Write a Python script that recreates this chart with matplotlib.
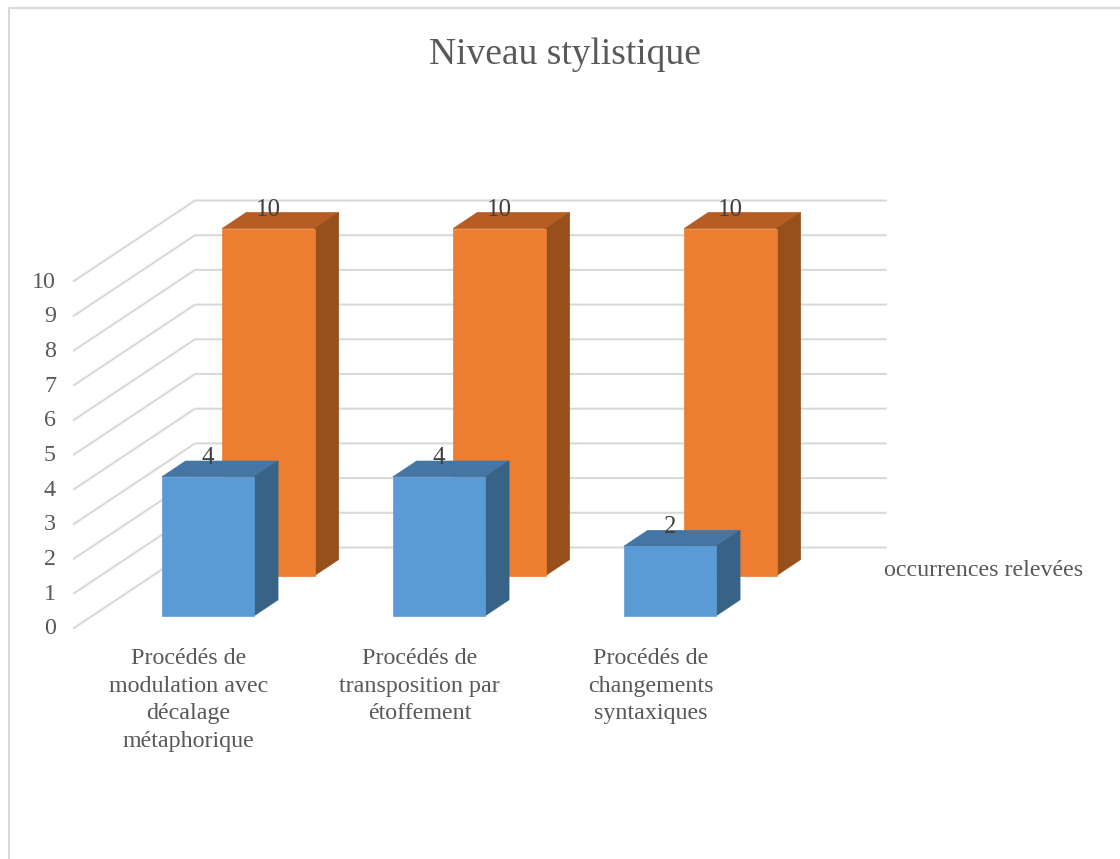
import numpy as np
import matplotlib
matplotlib.use('Agg')
import matplotlib.pyplot as plt
from matplotlib.patches import Polygon

plt.rcParams['font.family'] = ['Liberation Serif', 'DejaVu Serif']

title = "Niveau stylistique"
categories = ["Procédés de\nmodulation avec\ndécalage\nmétaphorique",
              "Procédés de\ntransposition par\nétoffement",
              "Procédés de\nchangements\nsyntaxiques"]
front_values = [4, 4, 2]
back_values = [10, 10, 10]
y_ticks = list(range(0, 11))
depth_label = "occurrences relevées"


# oblique projection used by the 3D excel chart: x in categories, v in value, z in depth (0-1)
def project(x, v, z):
    px = 74 + np.asarray(x) * 231.0 + np.asarray(z) * 121.0
    py = 628 - np.asarray(v) * 34.7 - np.asarray(z) * 80.5
    return px, py


def draw_bar(ax, x, value, z0, z1, front, top, side):
    x0, x1 = x + 0.30, x + 0.70
    def pts(corners):
        return list(zip(*project(*zip(*corners))))
    ax.add_patch(Polygon(pts([(x0, value, z0), (x1, value, z0), (x1, value, z1), (x0, value, z1)]),
                         fc=top, ec=top, lw=0.5, zorder=3))
    ax.add_patch(Polygon(pts([(x1, 0, z0), (x1, value, z0), (x1, value, z1), (x1, 0, z1)]),
                         fc=side, ec=side, lw=0.5, zorder=3))
    ax.add_patch(Polygon(pts([(x0, 0, z0), (x1, 0, z0), (x1, value, z0), (x0, value, z0)]),
                         fc=front, ec=front, lw=0.5, zorder=3))


fig = plt.figure(figsize=(11.2, 8.59), dpi=100)
ax = fig.add_axes([0, 0, 1, 1])
ax.set_xlim(0, 1120)
ax.set_ylim(859, 0)
ax.axis('off')

# chart frame
ax.plot([9, 9, 1120], [859, 8, 8], color='#d9d9d9', lw=1.5, zorder=1)

# gridlines on the side wall and back wall
for v in y_ticks:
    px, py = project([0, 0, len(categories) - 0.01], [v, v, v], [0, 1, 1])
    ax.plot(px, py, color='#d9d9d9', lw=1.5, zorder=1, solid_joinstyle='miter')
    tx, ty = project(0, v, 0)
    ax.text(tx - 18, ty + 1, str(v), ha='right', va='center', fontsize=17.3, color='#595959')

# back series first so the front one covers it
for i, val in enumerate(back_values):
    draw_bar(ax, i, val, 0.652, 0.85, '#ed7d31', '#b55d22', '#97501c')
for i, val in enumerate(front_values):
    draw_bar(ax, i, val, 0.153, 0.35, '#5b9bd5', '#4576a3', '#386387')

for i, val in enumerate(back_values):
    px, py = project(i + 0.5, val, 0.652)
    ax.text(px, py - 19, str(val), ha='center', va='center', fontsize=18, color='#404040', zorder=4)
for i, val in enumerate(front_values):
    px, py = project(i + 0.5, val, 0.153)
    ax.text(px, py - 19, str(val), ha='center', va='center', fontsize=18, color='#404040', zorder=4)

for i, cat in enumerate(categories):
    px, py = project(i + 0.5, 0, 0)
    ax.text(px - 1, py + 20, cat, ha='center', va='top', fontsize=17.3, color='#595959',
            linespacing=1.41)

ax.text(884, 571, depth_label, ha='left', va='center', fontsize=17.3, color='#595959')
ax.text(565, 55, title, ha='center', va='center', fontsize=27, color='#595959')

fig.savefig('out.png', dpi=100)
